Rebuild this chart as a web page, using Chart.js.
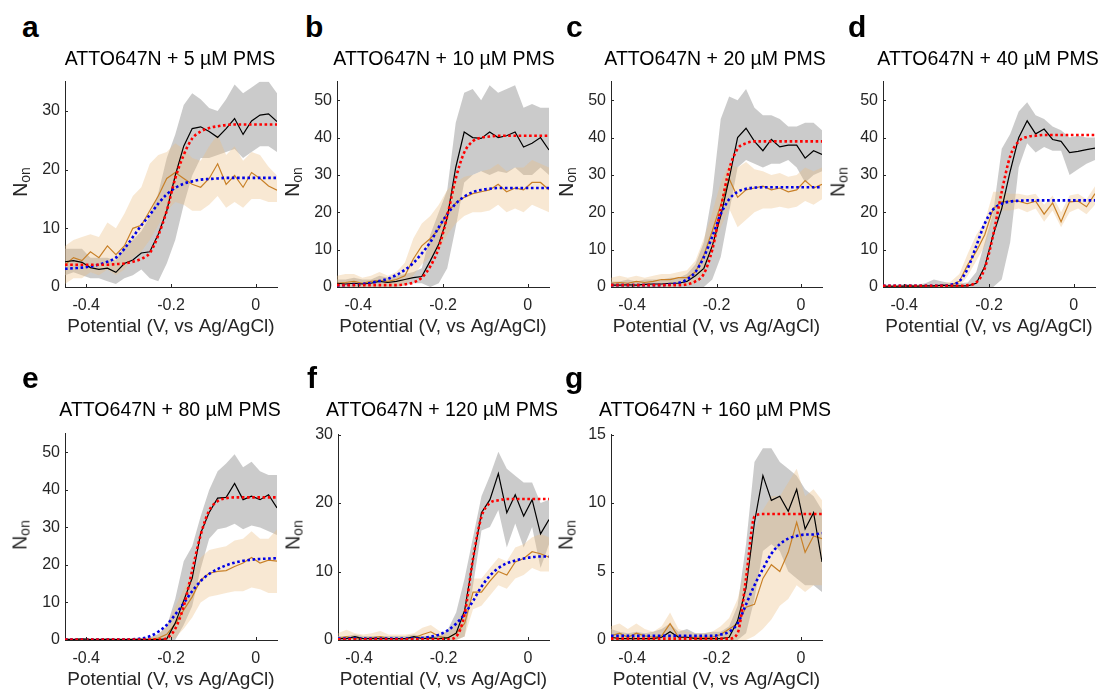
<!DOCTYPE html>
<html>
<head>
<meta charset="utf-8">
<script src="https://cdn.jsdelivr.net/npm/chart.js@4.4.1/dist/chart.umd.min.js"></script>
<style>
  body { margin: 0; background: #fff; width: 1104px; height: 689px; position: relative; overflow: hidden;
         font-family: "Liberation Sans", Arial, sans-serif; }
  canvas { position: absolute; }
  .letter { position: absolute; font-weight: bold; font-size: 30px; line-height: 30px; color: #000; }
  .title { position: absolute; font-size: 19.5px; line-height: 20px; color: #000; white-space: nowrap; transform: translateX(-50%); }
  .ylab { position: absolute; font-size: 19.5px; line-height: 20px; color: #262626; white-space: nowrap;
          transform: translate(-50%, -50%) rotate(-90deg); }
  .ylab sub { font-size: 14px; vertical-align: -3px; }
</style>
</head>
<body>
<script>
// potential axis (V vs Ag/AgCl), shared by all panels
const potential = [-0.45, -0.43, -0.41, -0.39, -0.37, -0.35, -0.33, -0.31, -0.29, -0.27, -0.25, -0.23, -0.21,
                   -0.19, -0.17, -0.15, -0.13, -0.11, -0.09, -0.07, -0.05, -0.03, -0.01, 0.01, 0.03, 0.05];
const xTicks = [-0.4, -0.2, 0];
const ticksA = [0, 10, 20, 30];
const ticks50 = [0, 10, 20, 30, 40, 50];
const ticksF = [0, 10, 20, 30];
const ticksG = [0, 5, 10, 15];
const titles = ["ATTO647N + 5 µM PMS", "ATTO647N + 10 µM PMS", "ATTO647N + 20 µM PMS", "ATTO647N + 40 µM PMS",
                "ATTO647N + 80 µM PMS", "ATTO647N + 120 µM PMS", "ATTO647N + 160 µM PMS"];

// a: 5 uM
const aBlack   = [4.3,4.5,4.2,3.3,3.0,3.2,2.5,4.0,4.6,5.8,6.0,9.0,13.0,19.0,24.0,27.0,27.3,26.5,25.5,27.0,28.7,26.0,28.3,29.3,29.5,28.2];
const aBlackLo = [2.0,2.5,2.0,1.5,1.5,1.0,0.5,1.5,2.0,3.0,1.5,1.0,4.0,8.0,14.0,19.0,22.0,22.0,22.5,23.0,23.5,22.0,23.0,24.0,24.0,23.0];
const aBlackHi = [6.5,6.5,6.5,5.0,5.0,5.0,4.5,7.0,8.0,9.5,12.0,16.0,22.0,26.0,31.0,33.0,32.0,30.5,30.0,32.0,34.5,33.0,34.0,35.0,35.0,33.0];
const aBrown   = [3.8,5.0,4.5,6.0,5.0,7.0,5.5,7.0,10.0,10.5,13.0,15.5,18.5,19.5,18.5,17.5,17.0,18.5,21.0,17.5,19.0,17.0,19.5,18.5,17.2,16.5];
const aBrownLo = [0.5,1.5,1.5,2.5,2.0,3.0,2.0,3.0,5.0,6.0,8.0,10.5,13.0,14.5,14.0,13.0,13.0,14.0,15.5,13.5,14.5,13.5,15.0,15.0,14.5,14.5];
const aBrownHi = [7.0,8.0,8.5,9.0,8.5,11.0,10.0,12.5,15.5,17.0,21.0,22.5,23.0,24.5,23.5,22.0,21.5,24.0,26.0,22.5,24.0,21.5,23.0,22.5,20.5,19.0];
const aRed     = [3.8,3.8,3.8,3.8,3.8,3.8,3.9,4.0,4.3,4.8,5.8,8.8,13.0,18.5,22.5,25.3,26.5,27.1,27.4,27.6,27.7,27.7,27.7,27.7,27.7,27.7];
const aBlue    = [3.1,3.2,3.3,3.5,3.8,4.3,5.0,6.5,8.5,10.5,12.3,14.2,15.8,16.9,17.6,18.0,18.3,18.4,18.5,18.6,18.6,18.6,18.6,18.6,18.6,18.6];

// b: 10 uM
const bBlack   = [1.0,0.8,1.0,0.8,1.0,1.5,1.2,1.5,2.0,2.5,2.8,7.0,11.5,18.5,32.0,41.5,40.0,39.8,41.5,40.0,40.5,41.5,37.5,38.5,40.0,36.7];
const bBlackLo = [0,0,0,0,0,0,0,0,0.5,1.0,1.0,0,1.0,5.0,16.0,28.0,30.0,31.0,30.0,31.0,30.5,32.0,30.0,30.0,32.0,30.0];
const bBlackHi = [2.0,2.0,2.5,2.0,2.0,3.0,2.5,3.0,3.5,4.0,5.0,14.0,20.0,26.0,44.0,52.0,53.0,50.0,54.0,52.0,53.0,54.0,48.0,49.0,48.0,48.0];
const bBrown   = [1.0,1.2,1.5,1.0,1.5,1.8,1.5,2.0,3.0,7.5,11.0,13.0,15.5,20.0,22.5,24.0,25.0,25.5,26.0,27.5,25.5,26.5,26.0,28.0,28.0,26.0];
const bBrownLo = [0,0,0,0,0,0,0,0,0.5,3.0,6.0,8.0,10.0,14.0,17.0,19.0,20.0,20.0,20.5,22.0,20.0,21.0,20.0,22.0,21.0,20.0];
const bBrownHi = [3.0,3.5,3.5,2.5,3.0,4.0,3.0,4.0,6.5,13.0,17.0,19.0,22.0,26.0,28.0,29.5,30.0,31.0,31.5,33.0,31.0,32.0,32.0,34.0,33.0,32.0];
const bRed     = [0.5,0.5,0.5,0.5,0.5,0.5,0.5,0.5,0.7,1.2,2.5,5.5,10.5,19.0,29.0,36.0,39.0,40.0,40.3,40.5,40.5,40.5,40.5,40.5,40.5,40.5];
const bBlue    = [0.4,0.5,0.6,0.8,1.1,1.6,2.2,3.2,4.6,6.4,9.0,12.0,16.0,19.5,22.3,24.2,25.4,26.0,26.3,26.5,26.5,26.5,26.5,26.5,26.5,26.5];

// c: 20 uM
const cBlack   = [0.5,0.5,0.6,0.5,0.7,0.8,0.8,1.0,1.0,1.5,3.0,5.0,11.0,19.0,29.0,40.0,42.5,39.0,36.5,39.5,37.5,38.0,38.0,34.5,36.5,35.5];
const cBlackLo = [0,0,0,0,0,0,0,0,0,0,0,0,2.0,8.0,20.0,32.0,34.0,33.0,32.0,33.0,33.0,34.0,32.0,28.0,30.0,31.0];
const cBlackHi = [1.5,1.5,2.0,1.5,2.0,2.0,2.0,2.5,2.5,3.5,6.0,12.0,25.0,45.0,51.0,50.0,53.0,48.0,46.0,46.0,45.0,43.0,43.0,44.0,44.0,42.0];
const cBrown   = [1.0,1.2,1.0,1.5,1.2,1.5,2.0,2.0,2.5,2.5,4.0,8.5,15.0,22.0,29.0,24.0,26.0,26.5,27.0,26.0,26.5,25.5,26.0,28.5,26.5,27.5];
const cBrownLo = [0,0,0,0,0,0,0,0,0.5,0.5,1.0,4.0,10.0,16.0,21.0,16.0,18.0,20.0,21.0,21.0,21.5,21.0,21.5,23.0,22.0,23.5];
const cBrownHi = [2.5,3.0,2.5,3.0,2.5,3.0,3.5,3.5,4.0,4.5,7.0,13.0,20.0,28.0,33.0,32.0,33.5,31.5,31.0,30.0,30.5,29.5,30.0,32.0,31.0,32.0];
const cRed     = [0.5,0.5,0.5,0.5,0.5,0.5,0.5,0.5,0.5,0.7,1.5,3.5,10.0,21.0,31.5,37.0,38.5,39.0,39.0,39.0,39.0,39.0,39.0,39.0,39.0,39.0];
const cBlue    = [0.5,0.5,0.5,0.5,0.5,0.5,0.5,0.7,1.1,2.0,4.0,8.0,13.5,19.5,23.5,25.5,26.3,26.6,26.7,26.7,26.7,26.7,26.7,26.7,26.7,26.7];

// d: 40 uM
const dBlack   = [0.2,0.2,0.2,0.3,0.2,0.3,0.3,0.5,0.3,0.3,0.3,1.0,5.5,14.0,21.0,31.0,40.0,44.5,41.0,42.3,39.5,39.0,36.0,36.3,36.8,37.2];
const dBlackLo = [0,0,0,0,0,0,0,0,0,0,0,0,0,0,2.0,12.0,32.0,38.5,36.0,37.5,36.5,36.5,30.0,31.5,33.0,34.0];
const dBlackHi = [0.6,0.6,0.6,0.8,0.6,1.0,2.0,1.5,1.0,1.0,1.2,4.0,12.0,20.0,37.0,41.0,47.0,49.5,46.0,45.0,43.0,42.0,40.0,40.5,40.0,40.0];
const dBrown   = [0.2,0.2,0.2,0.2,0.3,0.3,0.3,0.3,0.5,1.5,6.0,9.5,14.0,21.0,22.8,23.0,23.0,22.3,23.0,19.5,22.5,17.5,22.8,23.0,21.5,25.0];
const dBrownLo = [0,0,0,0,0,0,0,0,0,0,3.0,7.0,11.0,18.0,20.5,20.5,21.0,20.0,21.0,17.5,20.5,16.0,20.0,21.0,19.5,22.0];
const dBrownHi = [0.5,0.5,0.5,0.5,0.6,0.6,0.6,0.8,1.5,3.5,9.0,14.0,17.5,25.5,25.5,25.0,25.0,24.5,25.0,22.0,24.5,20.0,24.5,25.0,23.5,27.0];
const dRed     = [0.3,0.3,0.3,0.3,0.3,0.3,0.3,0.3,0.3,0.3,0.5,1.2,5.0,14.0,25.5,35.0,39.0,40.2,40.5,40.7,40.7,40.7,40.7,40.7,40.7,40.7];
const dBlue    = [0.3,0.3,0.3,0.3,0.3,0.3,0.3,0.3,0.6,1.5,5.0,11.0,17.0,20.8,22.3,22.9,23.1,23.2,23.2,23.2,23.2,23.2,23.2,23.2,23.2,23.2];

// e: 80 uM
const eBlack   = [0.2,0.1,0.3,0.1,0.1,0.2,0.1,0.1,0.1,0.2,0.1,0.1,0.3,4.5,10.5,16.5,28.5,34.0,37.8,38.0,41.7,37.4,38.3,37.4,38.7,35.2];
const eBlackLo = [0,0,0,0,0,0,0,0,0,0,0,0,0,0,4.0,9.0,19.0,27.0,29.5,30.0,31.0,29.5,30.5,30.0,29.0,28.0];
const eBlackHi = [0.5,0.5,0.5,0.5,0.5,0.5,0.5,0.5,0.5,0.5,0.7,1.5,3.5,11.0,21.0,25.0,33.0,40.0,45.0,47.0,49.5,46.0,47.5,45.0,44.0,44.0];
const eBrown   = [0.1,0.1,0.1,0.1,0.1,0.1,0.1,0.1,0.2,0.1,0.2,0.5,1.5,4.3,8.0,11.5,16.0,17.8,18.3,18.5,19.6,20.5,22.0,20.5,21.3,21.0];
const eBrownLo = [0,0,0,0,0,0,0,0,0,0,0,0,0,0.5,3.0,6.0,10.0,11.5,12.0,12.5,13.0,13.0,14.0,13.5,12.5,12.5];
const eBrownHi = [0.5,0.5,0.5,0.5,0.5,0.5,0.5,0.5,0.5,0.5,0.5,1.5,4.0,9.0,13.5,17.5,22.0,24.0,24.5,25.0,26.5,27.0,29.0,27.0,27.0,29.5];
const eRed     = [0.1,0.1,0.1,0.1,0.1,0.1,0.1,0.1,0.1,0.1,0.1,0.1,0.5,3.0,9.0,18.5,28.0,34.5,37.0,37.8,38.0,38.0,38.0,38.0,38.0,38.0];
const eBlue    = [0.1,0.1,0.1,0.1,0.1,0.1,0.1,0.1,0.2,0.4,1.0,2.2,4.0,6.8,9.8,13.0,15.7,17.6,18.9,19.9,20.6,21.1,21.4,21.6,21.7,21.8];

// f: 120 uM
const fBlack   = [0.2,0.2,0.5,0.2,0.2,0.2,0.2,0.2,0.2,0.5,0.2,0.3,0.2,0.3,1.0,4.3,11.7,18.6,20.5,24.3,18.6,21.2,18.1,20.5,15.5,17.6];
const fBlackLo = [0,0,0,0,0,0,0,0,0,0,0,0,0,0,0,0.5,8.0,16.0,16.5,19.0,13.5,17.0,13.5,16.5,10.5,14.0];
const fBlackHi = [0.6,0.6,0.8,0.6,0.6,0.6,0.6,0.6,0.6,0.8,0.6,0.6,0.6,1.5,4.0,9.0,15.0,21.0,24.0,27.5,25.0,24.0,23.0,23.0,20.0,20.5];
const fBrown   = [0.2,0.5,0.2,0.2,0.3,0.5,0.2,0.2,0.2,0.3,0.8,1.2,0.5,0.3,1.0,2.4,7.0,7.0,8.6,10.0,9.5,11.4,11.9,12.9,12.6,12.1];
const fBrownLo = [0,0,0,0,0,0,0,0,0,0,0,0,0,0,0,0.5,4.5,5.0,6.5,8.0,7.5,9.0,9.5,10.5,10.0,10.0];
const fBrownHi = [1.0,1.5,1.0,0.8,1.0,1.3,0.8,0.8,0.8,1.0,1.8,2.2,1.3,1.0,2.5,4.5,9.0,9.0,10.5,12.0,11.5,13.5,14.0,15.0,15.5,15.0];
const fRed     = [0.1,0.1,0.1,0.1,0.1,0.1,0.1,0.1,0.1,0.1,0.1,0.1,0.1,0.1,0.5,3.8,11.9,18.0,20.0,20.4,20.6,20.6,20.6,20.6,20.6,20.6];
const fBlue    = [0.2,0.2,0.2,0.2,0.2,0.2,0.2,0.2,0.2,0.2,0.3,0.5,0.8,1.4,2.4,3.8,5.7,7.8,9.4,10.5,11.2,11.6,11.9,12.1,12.2,12.2];

// g: 160 uM
const gBlack   = [0.2,0.1,0.1,0.1,0.1,0.1,0.2,0.6,0.2,0.2,0.1,0.1,0.1,0.1,0.2,1.4,3.8,8.6,12.0,10.2,10.5,9.4,11.0,8.1,9.3,5.7];
const gBlackLo = [0,0,0,0,0,0,0,0,0,0,0,0,0,0,0,0,0.5,3.0,6.5,7.0,6.5,5.0,4.5,4.0,4.0,3.5];
const gBlackHi = [0.8,0.6,0.5,0.6,0.5,0.6,0.8,1.2,0.6,0.8,0.5,0.5,0.6,0.6,1.0,2.5,7.0,13.0,14.0,14.0,13.0,12.5,12.0,11.0,10.5,9.5];
const gBrown   = [0.3,0.5,0.2,0.5,0.3,0.2,0.3,1.2,0.2,0.2,0.2,0.2,0.2,0.4,0.8,1.2,2.4,2.6,4.5,5.5,5.0,6.4,8.6,6.4,7.6,7.4];
const gBrownLo = [0,0,0,0,0,0,0,0,0,0,0,0,0,0,0,0,0,0.3,0.8,1.5,2.5,3.0,4.0,3.5,4.0,4.0];
const gBrownHi = [1.0,1.2,0.8,1.2,0.8,0.6,1.0,2.0,0.8,0.6,0.5,0.5,0.6,1.0,1.6,3.0,5.5,8.0,9.5,10.5,10.5,11.5,12.5,10.5,11.0,10.2];
const gRed     = [0.1,0.1,0.1,0.1,0.1,0.1,0.1,0.1,0.1,0.1,0.1,0.1,0.1,0.1,0.1,0.5,4.5,9.0,9.2,9.2,9.2,9.2,9.2,9.2,9.2,9.2];
const gBlue    = [0.3,0.3,0.3,0.3,0.3,0.3,0.3,0.3,0.3,0.3,0.3,0.3,0.3,0.4,0.6,1.2,2.6,4.0,5.2,6.3,7.0,7.4,7.6,7.7,7.7,7.8];

// layout of the 7 axes (plot area edges in page pixels)
const panels = [
  { id: "a", L: 65,  R: 277,  T: 77,  B: 287, ymax: 35, yt: ticksA,  s: [aBlack, aBlackLo, aBlackHi, aBrown, aBrownLo, aBrownHi, aRed, aBlue], lx: 22,  row: 0, tx: 170 },
  { id: "b", L: 337, R: 549,  T: 77,  B: 287, ymax: 55, yt: ticks50, s: [bBlack, bBlackLo, bBlackHi, bBrown, bBrownLo, bBrownHi, bRed, bBlue], lx: 305, row: 0, tx: 444 },
  { id: "c", L: 611, R: 822,  T: 77,  B: 287, ymax: 55, yt: ticks50, s: [cBlack, cBlackLo, cBlackHi, cBrown, cBrownLo, cBrownHi, cRed, cBlue], lx: 566, row: 0, tx: 715 },
  { id: "d", L: 883, R: 1095, T: 77,  B: 287, ymax: 55, yt: ticks50, s: [dBlack, dBlackLo, dBlackHi, dBrown, dBrownLo, dBrownHi, dRed, dBlue], lx: 848, row: 0, tx: 988 },
  { id: "e", L: 65,  R: 277,  T: 429, B: 640, ymax: 55, yt: ticks50, s: [eBlack, eBlackLo, eBlackHi, eBrown, eBrownLo, eBrownHi, eRed, eBlue], lx: 22,  row: 1, tx: 170 },
  { id: "f", L: 338, R: 549,  T: 430, B: 640, ymax: 30, yt: ticksF,  s: [fBlack, fBlackLo, fBlackHi, fBrown, fBrownLo, fBrownHi, fRed, fBlue], lx: 307, row: 1, tx: 442 },
  { id: "g", L: 611, R: 822,  T: 430, B: 640, ymax: 15, yt: ticksG,  s: [gBlack, gBlackLo, gBlackHi, gBrown, gBrownLo, gBrownHi, gRed, gBlue], lx: 565, row: 1, tx: 715 },
];

const axisColor = "#262626";
const tickFont = { family: "Liberation Sans", size: 16 };

// MATLAB style: small tick marks pointing into the plot
const inwardTicks = {
  id: "inwardTicks",
  afterDraw(chart) {
    const { ctx, chartArea: a, scales: { x, y } } = chart;
    ctx.save();
    ctx.strokeStyle = axisColor;
    ctx.lineWidth = 1;
    ctx.beginPath();
    x.ticks.forEach(t => {
      const px = Math.round(x.getPixelForValue(t.value)) + 0.5;
      ctx.moveTo(px, a.bottom); ctx.lineTo(px, a.bottom - 3);
    });
    y.ticks.forEach(t => {
      const py = Math.round(y.getPixelForValue(t.value)) + 0.5;
      ctx.moveTo(a.left, py); ctx.lineTo(a.left + 3, py);
    });
    ctx.stroke();
    ctx.restore();
  }
};

const pts = arr => arr.map((v, i) => ({ x: potential[i], y: v }));

function band(arr, color, fillTo, order) {
  return { data: pts(arr), borderWidth: 0, pointRadius: 0, backgroundColor: color,
           fill: fillTo === null ? false : fillTo, order: order };
}

function makeChart(p) {
  const [black, blackLo, blackHi, brown, brownLo, brownHi, red, blue] = p.s;
  const w = p.R - p.L + 60, h = p.B - p.T + 62;
  const cv = document.createElement("canvas");
  cv.width = w; cv.height = h;
  cv.style.left = (p.L - 50) + "px"; cv.style.top = (p.T - 10) + "px";
  cv.style.width = w + "px"; cv.style.height = h + "px";
  document.body.appendChild(cv);

  const datasets = [
    band(blackLo, "rgba(0,0,0,0)", null, 8),
    band(blackHi, "rgba(160,160,160,0.55)", 0, 7),
    band(brownLo, "rgba(0,0,0,0)", null, 6),
    band(brownHi, "rgba(236,190,130,0.35)", 2, 5),
    { data: pts(brown), borderColor: "rgb(200,128,40)", borderWidth: 1.2, pointRadius: 0, fill: false, order: 4 },
    { data: pts(black), borderColor: "#000", borderWidth: 1.2, pointRadius: 0, fill: false, order: 3 },
    { data: pts(blue), borderColor: "#0000e6", borderWidth: 2.6, borderDash: [2.6, 2.6], pointRadius: 0,
      fill: false, cubicInterpolationMode: "monotone", order: 2 },
    { data: pts(red), borderColor: "#ff0000", borderWidth: 2.6, borderDash: [2.6, 2.6], pointRadius: 0,
      fill: false, cubicInterpolationMode: "monotone", order: 1 },
  ];

  new Chart(cv, {
    type: "line",
    data: { datasets },
    plugins: [inwardTicks],
    options: {
      responsive: false,
      animation: false,
      layout: { padding: { left: 0, top: 10, right: 10, bottom: 0 } },
      plugins: { legend: { display: false }, tooltip: { enabled: false } },
      scales: {
        x: {
          type: "linear", min: -0.45, max: 0.05,
          afterBuildTicks: s => { s.ticks = xTicks.map(v => ({ value: v })); },
          afterFit: s => { s.height = 52; },
          grid: { display: false, drawTicks: false },
          border: { display: true, color: axisColor, width: 1 },
          ticks: { color: axisColor, font: tickFont, padding: 9, maxRotation: 0, callback: v => String(v) },
          title: { display: true, text: "Potential (V, vs Ag/AgCl)", color: axisColor,
                   font: { family: "Liberation Sans", size: 19 }, padding: { top: 0, bottom: 1 } }
        },
        y: {
          min: 0, max: p.ymax,
          afterBuildTicks: s => { s.ticks = p.yt.map(v => ({ value: v })); },
          afterFit: s => { s.width = 50; },
          grid: { display: false, drawTicks: false },
          border: { display: true, color: axisColor, width: 1 },
          ticks: { color: axisColor, font: tickFont, padding: 5, callback: v => String(v) }
        }
      }
    }
  });

  // panel letter, title and y label as page text
  const letter = document.createElement("div");
  letter.className = "letter"; letter.textContent = p.id;
  letter.style.left = p.lx + "px"; letter.style.top = (p.row ? 362.6 : 11.6) + "px";
  document.body.appendChild(letter);

  const title = document.createElement("div");
  title.className = "title"; title.textContent = titles[panels.indexOf(p)];
  title.style.left = p.tx + "px"; title.style.top = (p.row ? 399 : 48) + "px";
  document.body.appendChild(title);

  const yl = document.createElement("div");
  yl.className = "ylab"; yl.innerHTML = "N<sub>on</sub>";
  yl.style.left = (p.L - 43) + "px"; yl.style.top = ((p.T + p.B) / 2) + "px";
  document.body.appendChild(yl);
}

panels.forEach(makeChart);
</script>
</body>
</html>
